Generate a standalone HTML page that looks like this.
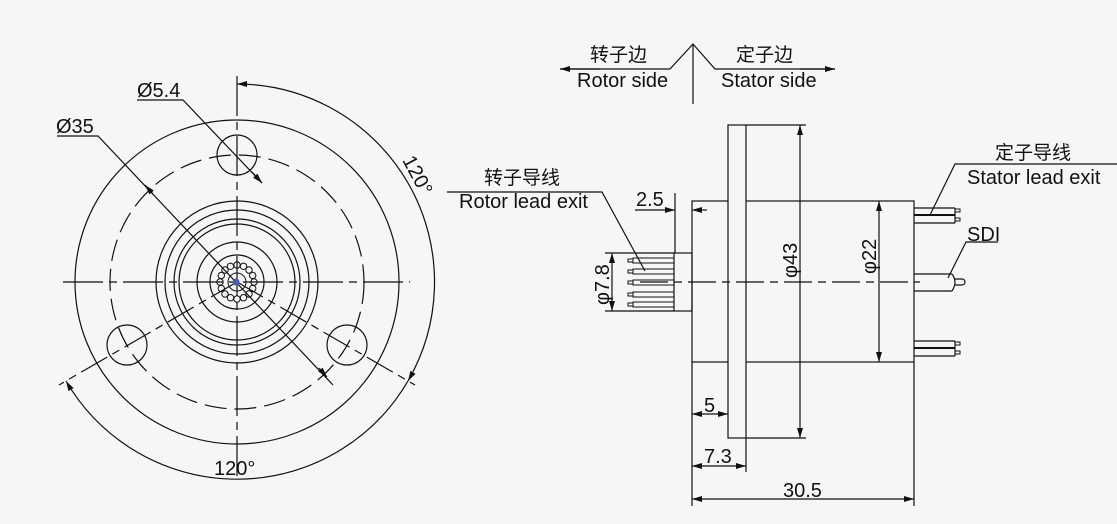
<!DOCTYPE html>
<html><head><meta charset="utf-8"><style>
html,body{margin:0;padding:0;background:#f5f6f5;}
svg{display:block;}
text{font-family:"Liberation Sans","Noto Sans CJK SC",sans-serif;fill:#111;}
</style></head><body>
<svg width="1117" height="524" viewBox="0 0 1117 524" xmlns="http://www.w3.org/2000/svg">
<defs>
<marker id="a" viewBox="0 0 10 6" refX="10" refY="3" markerWidth="10" markerHeight="6" orient="auto-start-reverse" markerUnits="userSpaceOnUse"><path d="M0,0 L10,3 L0,6 z" fill="#111"/></marker>
</defs>
<g stroke="#111" stroke-width="1.2" fill="none">
<circle cx="237" cy="282" r="162"/>
<circle cx="237" cy="282" r="127" stroke-dasharray="22,8"/>
<circle cx="237" cy="282" r="81"/>
<circle cx="237" cy="282" r="72"/>
<circle cx="237" cy="282" r="63"/>
<circle cx="237" cy="282" r="58"/>
<circle cx="237" cy="282" r="40"/>
<circle cx="237" cy="282" r="27"/>
<circle cx="237" cy="155" r="20"/>
<circle cx="347" cy="345" r="20"/>
<circle cx="127" cy="345" r="20"/>
<line x1="63" y1="282" x2="410" y2="282" stroke-dasharray="40,6,8,6"/>
<line x1="237" y1="76" x2="237" y2="478" stroke-dasharray="40,6,8,6"/>
<line x1="237" y1="282" x2="415" y2="385" stroke-dasharray="30,6,8,6"/>
<line x1="237" y1="282" x2="59" y2="385" stroke-dasharray="30,6,8,6"/>
<polyline points="137,100 183,100 262,183"/>
<line x1="252" y1="172" x2="262" y2="183" marker-end="url(#a)"/>
<polyline points="57,136 98,136 333,385"/>
<line x1="153" y1="194" x2="145" y2="185" marker-end="url(#a)"/>
<line x1="319" y1="368" x2="327" y2="377" marker-end="url(#a)"/>
<path d="M237,84 A198,198 0 0 1 408,381" marker-start="url(#a)" marker-end="url(#a)"/>
<path d="M408,381 A198,198 0 0 1 66,381" marker-end="url(#a)"/>
</g>
<g fill="none" stroke="#111" stroke-width="1">
<circle cx="254" cy="282" r="3.2"/><circle cx="252.7" cy="288.5" r="3.2"/><circle cx="249" cy="294" r="3.2"/><circle cx="243.5" cy="297.7" r="3.2"/><circle cx="237" cy="299" r="3.2"/><circle cx="230.5" cy="297.7" r="3.2"/><circle cx="225" cy="294" r="3.2"/><circle cx="221.3" cy="288.5" r="3.2"/><circle cx="220" cy="282" r="3.2"/><circle cx="221.3" cy="275.5" r="3.2"/><circle cx="225" cy="270" r="3.2"/><circle cx="230.5" cy="266.3" r="3.2"/><circle cx="237" cy="265" r="3.2"/><circle cx="243.5" cy="266.3" r="3.2"/><circle cx="249" cy="270" r="3.2"/><circle cx="252.7" cy="275.5" r="3.2"/>
<circle cx="237" cy="282" r="9"/>
</g>
<circle cx="236" cy="282" r="3.5" fill="#4a5fa8"/>
<text x="137" y="97" font-size="20">Ø5.4</text>
<text x="56" y="133" font-size="20">Ø35</text>
<text x="214" y="475" font-size="20">120°</text>
<text x="0" y="0" font-size="20" transform="translate(402,160) rotate(62)">120°</text>

<g stroke="#111" stroke-width="1.2" fill="none">
<polyline points="560,69 670,69 693,44 715,69 835,69"/>
<line x1="600" y1="69" x2="560" y2="69" marker-end="url(#a)"/>
<line x1="800" y1="69" x2="835" y2="69" marker-end="url(#a)"/>
<line x1="693" y1="44" x2="693" y2="104"/>
</g>
<text x="590" y="61" font-size="19">转子边</text>
<text x="577" y="87" font-size="20">Rotor side</text>
<text x="736" y="61" font-size="19">定子边</text>
<text x="721" y="87" font-size="20">Stator side</text>

<g stroke="#111" stroke-width="1.2" fill="none">
<rect x="692" y="201" width="222" height="161"/>
<rect x="728" y="125" width="18" height="313" fill="#f5f6f5"/>
<rect x="674" y="253" width="18" height="58"/>
<line x1="640" y1="282" x2="920" y2="282" stroke-dasharray="28,6,8,6"/>
<g stroke-width="1">
<rect x="633" y="258" width="41" height="5"/><rect x="628" y="259" width="5" height="3"/>
<rect x="633" y="269" width="41" height="5"/><rect x="628" y="270" width="5" height="3"/>
<rect x="633" y="280" width="41" height="5"/><rect x="628" y="281" width="5" height="3"/>
<rect x="633" y="292" width="41" height="5"/><rect x="628" y="293" width="5" height="3"/>
<rect x="633" y="302" width="41" height="5"/><rect x="628" y="303" width="5" height="3"/>
</g>
<line x1="914" y1="208" x2="955" y2="208"/><line x1="914" y1="215" x2="955" y2="215" stroke-width="2"/><line x1="914" y1="223" x2="955" y2="223"/>
<line x1="955" y1="208" x2="955" y2="223"/>
<rect x="955" y="209" width="5" height="3" stroke-width="1"/><rect x="955" y="218" width="5" height="3" stroke-width="1"/>
<line x1="914" y1="274" x2="952" y2="274"/><line x1="914" y1="291" x2="952" y2="291"/>
<path d="M952,274 Q958,282 952,291"/>
<path d="M955,279 L962,279 A3,3 0 0 1 962,285 L955,285"/>
<line x1="914" y1="341" x2="955" y2="341"/><line x1="914" y1="348" x2="955" y2="348" stroke-width="2"/><line x1="914" y1="356" x2="955" y2="356"/>
<line x1="955" y1="341" x2="955" y2="356"/>
<rect x="955" y="342" width="5" height="3" stroke-width="1"/><rect x="955" y="351" width="5" height="3" stroke-width="1"/>
<line x1="746" y1="125" x2="806" y2="125"/><line x1="746" y1="438" x2="806" y2="438"/>
<line x1="800" y1="125" x2="800" y2="438" marker-start="url(#a)" marker-end="url(#a)"/>
<line x1="879" y1="201" x2="879" y2="362" marker-start="url(#a)" marker-end="url(#a)"/>
<line x1="605" y1="253" x2="674" y2="253"/><line x1="605" y1="311" x2="674" y2="311"/>
<line x1="612" y1="253" x2="612" y2="311" marker-start="url(#a)" marker-end="url(#a)"/>
<line x1="675" y1="193" x2="675" y2="253"/>
<line x1="635" y1="210" x2="675" y2="210" marker-end="url(#a)"/>
<line x1="707" y1="210" x2="692" y2="210" marker-end="url(#a)"/>
<line x1="692" y1="362" x2="692" y2="506"/>
<line x1="746" y1="438" x2="746" y2="472"/>
<line x1="914" y1="362" x2="914" y2="506"/>
<line x1="692" y1="414" x2="728" y2="414" marker-start="url(#a)" marker-end="url(#a)"/>
<line x1="692" y1="466" x2="746" y2="466" marker-start="url(#a)" marker-end="url(#a)"/>
<line x1="692" y1="499" x2="914" y2="499" marker-start="url(#a)" marker-end="url(#a)"/>
<polyline points="447,192 602,192 645,271"/>
<polyline points="1117,164 955,164 930,215"/>
<polyline points="998,242 966,242 948,278"/>
</g>
<text x="484" y="184" font-size="19">转子导线</text>
<text x="459" y="208" font-size="20">Rotor lead exit</text>
<text x="636" y="206" font-size="20">2.5</text>
<text x="0" y="0" font-size="20" transform="translate(609,305) rotate(-90)">φ7.8</text>
<text x="0" y="0" font-size="20" transform="translate(797,278) rotate(-90)">φ43</text>
<text x="0" y="0" font-size="20" transform="translate(876,274) rotate(-90)">φ22</text>
<text x="704" y="412" font-size="20">5</text>
<text x="704" y="463" font-size="20">7.3</text>
<text x="783" y="497" font-size="20">30.5</text>
<text x="995" y="159" font-size="19">定子导线</text>
<text x="967" y="184" font-size="20">Stator lead exit</text>
<text x="967" y="241" font-size="20">SDI</text>
</svg>
</body></html>
